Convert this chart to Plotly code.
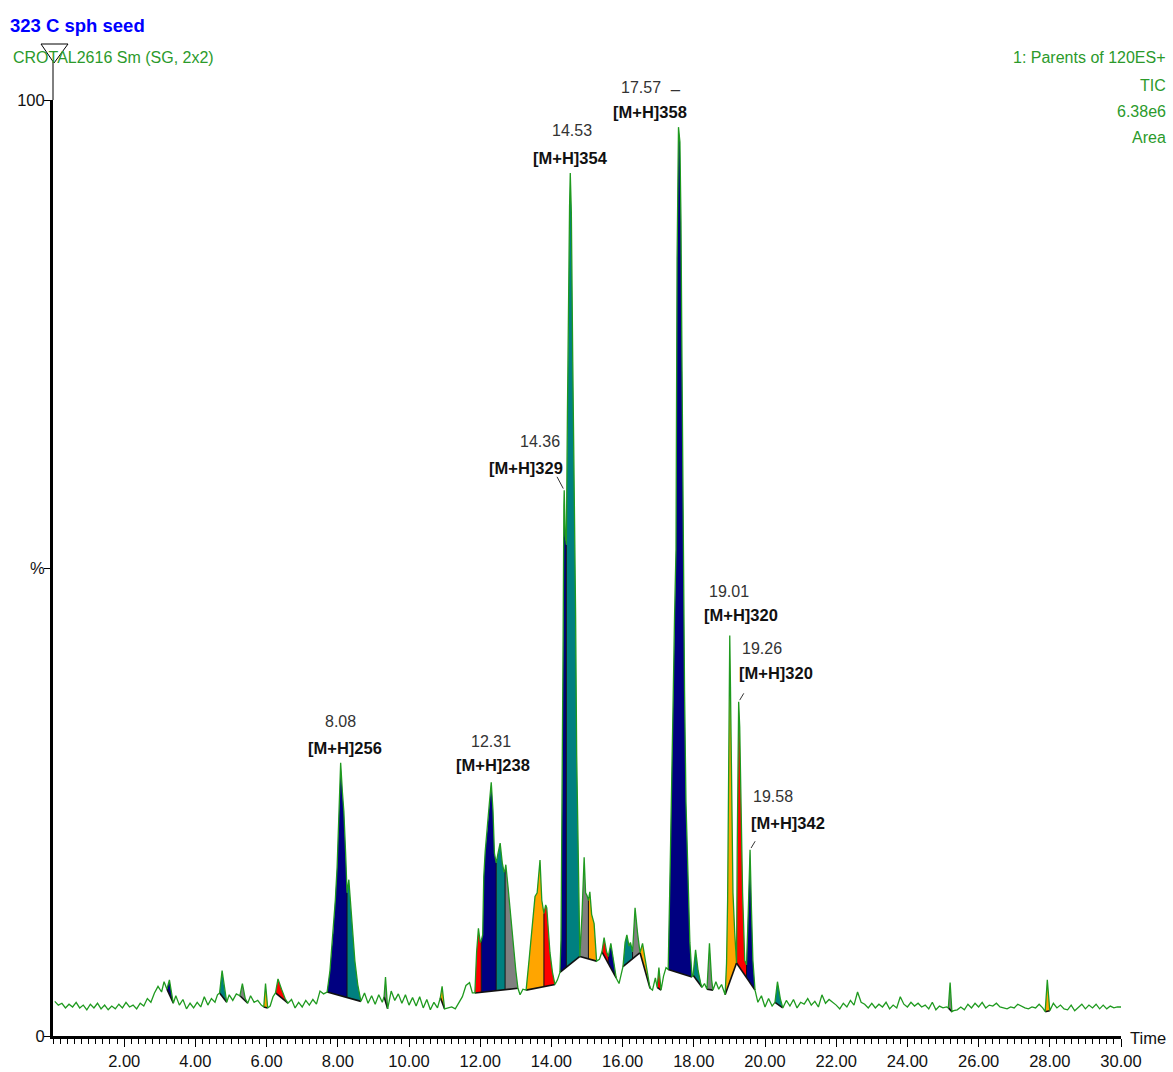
import numpy as np
import plotly.graph_objects as go

FONT = "Liberation Sans, Arial, sans-serif"

# ---------------- TIC trace: retention time (min) / intensity (% of 6.38e6) ----------------
rt_a = np.round(np.arange(0.05, 3.0, 0.1), 2)
tic_a = [3.7, 3.3, 3.5, 3.0, 3.4, 3.1, 3.6, 3.0, 3.3, 2.8, 3.4, 3.0, 3.5, 2.9, 3.3,
         2.8, 3.2, 2.9, 3.4, 3.0, 3.6, 3.1, 3.3, 2.9, 3.5, 3.2, 4.0, 3.6, 4.6, 5.3]

rt_b = [3.05, 3.12, 3.20, 3.27, 3.33, 3.38, 3.45, 3.55, 3.65, 3.75, 3.85, 3.95,
        4.05, 4.15, 4.25, 4.35, 4.45, 4.55, 4.62, 4.68, 4.75, 4.80, 4.88, 4.95,
        5.05, 5.15, 5.25, 5.32, 5.40, 5.47, 5.55, 5.65, 5.75, 5.85, 5.92, 5.97,
        6.03, 6.10, 6.18, 6.25, 6.32, 6.42, 6.52, 6.60, 6.70, 6.80, 6.90, 7.00,
        7.10, 7.20, 7.30, 7.40, 7.50, 7.60]
tic_b = [4.7, 5.8, 5.0, 6.0, 4.6, 3.5, 4.3, 3.3, 3.9, 2.9, 3.5, 3.0,
         3.6, 3.1, 4.2, 3.3, 4.0, 3.6, 4.4, 4.6, 7.0, 5.5, 3.6, 4.4,
         3.8, 4.5, 4.3, 5.6, 4.0, 3.5, 4.3, 3.6, 3.8, 3.3, 3.1, 5.6,
         3.0, 3.2, 4.2, 4.6, 6.1, 5.0, 4.0, 3.5, 3.9, 3.0, 3.6, 3.1,
         3.8, 3.3, 3.9, 3.4, 4.8, 4.5]

rt_c = [7.70, 7.78, 7.87, 7.93, 7.98, 8.03, 8.08, 8.13, 8.17, 8.22, 8.26, 8.31,
        8.36, 8.42, 8.48, 8.56, 8.65]
tic_c = [4.7, 7.0, 11.0, 14.5, 18.0, 23.5, 29.2, 26.0, 24.0, 19.5, 15.3, 16.7,
         14.0, 11.0, 8.0, 5.5, 3.7]

rt_d = [8.75, 8.85, 8.95, 9.05, 9.15, 9.25, 9.30, 9.34, 9.40, 9.50, 9.60, 9.70,
        9.80, 9.90, 10.00, 10.10, 10.20, 10.30, 10.40, 10.50, 10.60, 10.70, 10.80,
        10.88, 10.93, 11.00, 11.10, 11.20, 11.30, 11.40, 11.50, 11.60, 11.70, 11.78]
tic_d = [4.6, 3.5, 4.3, 3.4, 4.4, 3.6, 4.2, 6.3, 2.9, 4.8, 3.8, 4.5,
         3.5, 4.4, 3.3, 4.1, 3.2, 4.2, 3.0, 3.9, 2.8, 3.6, 3.0,
         4.1, 5.3, 2.9, 3.0, 3.1, 2.9, 3.6, 4.2, 5.4, 5.7, 4.6]

rt_e = [11.85, 11.90, 11.95, 12.00, 12.03, 12.07, 12.10, 12.14, 12.20, 12.26, 12.31, 12.36,
        12.40, 12.45, 12.50, 12.56, 12.62, 12.67, 12.70, 12.72, 12.78, 12.85, 12.92, 13.00,
        13.06, 13.12, 13.20, 13.29, 13.37, 13.45, 13.54, 13.60, 13.68, 13.73, 13.79, 13.84,
        13.87, 13.92, 13.96, 14.03, 14.10, 14.17, 14.24, 14.27, 14.30, 14.33, 14.35, 14.36,
        14.39, 14.42, 14.45, 14.48, 14.51, 14.53, 14.56, 14.60, 14.64, 14.68, 14.71, 14.75,
        14.78, 14.80]
tic_e = [4.6, 9.0, 11.5, 10.0, 10.2, 10.8, 17.0, 19.7, 22.0, 25.0, 27.1, 24.0,
         19.5, 18.5, 19.5, 20.6, 18.5, 17.5, 17.8, 18.3, 16.0, 13.0, 10.0, 7.0,
         5.1, 4.4, 5.0, 4.9, 8.0, 11.3, 14.9, 15.3, 18.8, 14.5, 13.1, 14.0,
         13.7, 11.0, 8.9, 6.8, 5.5, 6.0, 6.8, 10.3, 24.0, 43.0, 56.7, 58.3,
         53.5, 52.5, 66.5, 82.9, 88.6, 92.2, 88.0, 72.0, 60.0, 45.0, 30.0, 20.0,
         11.0, 8.5]

rt_f = [14.86, 14.92, 14.96, 15.00, 15.04, 15.08, 15.13, 15.20, 15.27, 15.35, 15.42, 15.48,
        15.55, 15.60, 15.67, 15.75, 15.82, 15.90, 16.01, 16.07, 16.12, 16.18, 16.22, 16.28,
        16.35, 16.42, 16.49, 16.56, 16.62, 16.70, 16.77, 16.84, 16.92, 16.97, 17.02, 17.08,
        17.15, 17.22]
tic_f = [13.0, 19.1, 15.3, 15.0, 14.5, 15.4, 13.0, 12.0, 8.0, 8.2, 9.0, 10.5,
         9.0, 8.5, 9.9, 8.0, 6.2, 5.6, 7.4, 10.0, 10.8, 9.6, 10.0, 9.0,
         13.7, 11.0, 8.9, 9.9, 8.5, 6.5, 5.1, 4.9, 6.2, 5.2, 7.3, 4.9,
         6.4, 7.3]

rt_g = [17.28, 17.33, 17.38, 17.42, 17.46, 17.50, 17.53, 17.57, 17.61, 17.64, 17.67, 17.70,
        17.74, 17.78, 17.84, 17.89, 17.95, 17.98, 18.05, 18.12, 18.20, 18.23, 18.30, 18.37,
        18.44, 18.50, 18.54, 18.62, 18.70, 18.78, 18.88, 18.92, 18.95, 18.97, 18.99, 19.01,
        19.03, 19.07, 19.10, 19.15, 19.20, 19.22, 19.24, 19.26, 19.29, 19.32, 19.37, 19.43,
        19.48, 19.52, 19.55, 19.58, 19.62, 19.66, 19.72, 19.80, 19.90, 20.00, 20.10, 20.20,
        20.28, 20.35, 20.43, 20.50]
tic_g = [7.1, 16.7, 26.0, 36.0, 45.0, 52.0, 83.0, 97.1, 95.5, 87.0, 71.0, 51.0,
         37.0, 25.0, 16.0, 10.0, 6.3, 6.5, 9.2, 7.0, 5.5, 5.2, 5.6, 5.0,
         9.9, 6.0, 4.9, 5.8, 5.0, 5.5, 4.4, 7.8, 14.5, 26.0, 37.3, 42.8,
         37.3, 24.0, 15.3, 11.0, 7.8, 20.0, 32.7, 35.7, 33.0, 25.2, 15.3, 8.1,
         7.6, 12.0, 17.0, 19.9, 13.5, 8.1, 4.9, 3.6, 4.3, 3.1, 4.0, 3.2,
         3.6, 5.8, 4.0, 3.0]

rt_h = np.round(np.arange(20.6, 25.15, 0.1), 2)
tic_h = [3.8, 3.2, 3.9, 3.0, 3.6, 3.4, 4.0, 3.3, 3.7, 3.1,
         4.4, 3.5, 3.9, 3.6, 3.3, 2.9, 3.5, 3.1, 3.8, 3.3,
         4.7, 3.6, 3.4, 3.0, 3.5, 3.0, 3.4, 3.1, 3.6, 2.9,
         3.3, 3.0, 4.2, 3.4, 3.1, 3.6, 3.2, 3.5, 3.1, 3.3,
         2.9, 3.6, 2.8, 3.2, 3.0, 3.1]

rt_i = [25.15, 25.20, 25.25]
tic_i = [3.0, 5.7, 2.6]

rt_j = np.round(np.arange(25.3, 27.85, 0.1), 2)
tic_j = [2.7, 2.8, 3.1, 2.8, 3.4, 3.0, 3.5, 3.1, 3.6, 3.0,
         3.3, 3.2, 3.5, 3.1, 3.0, 2.9, 3.1, 3.0, 3.4, 3.2,
         3.0, 2.9, 3.1, 3.0, 3.4, 3.0]

rt_k = [27.87, 27.93, 28.00]
tic_k = [2.6, 6.0, 2.7]

rt_l = np.round(np.arange(28.1, 30.05, 0.1), 2)
tic_l = [3.5, 3.0, 3.3, 2.9, 2.8, 3.3, 2.7, 3.1, 3.4, 2.9,
         3.3, 3.0, 3.4, 2.9, 3.3, 2.9, 3.2, 3.0, 3.1, 3.1]

rt = np.concatenate([rt_a, rt_b, rt_c, rt_d, rt_e, rt_f, rt_g, rt_h, rt_i, rt_j, rt_k, rt_l]).astype(float)
tic = np.concatenate([tic_a, tic_b, tic_c, tic_d, tic_e, tic_f, tic_g, tic_h, tic_i, tic_j, tic_k, tic_l]).astype(float)

# ---------------- integrated peaks: window start/end and drop-line times (min) ----------------
win_start = [3.20, 4.68, 5.25, 5.92, 6.25, 7.70, 9.30, 10.88, 11.85, 13.29, 14.24, 14.80,
             15.42, 16.01, 16.49, 16.97, 17.28, 17.98, 18.37, 18.88, 19.20, 20.28, 25.15, 27.87]
win_end = [3.38, 4.88, 5.47, 6.03, 6.60, 8.65, 9.40, 11.00, 13.06, 14.10, 14.80, 15.27,
           15.82, 16.49, 16.77, 17.08, 17.95, 18.23, 18.54, 19.20, 19.72, 20.50, 25.25, 28.00]
win_drops = [[], [], [], [], [], [8.26], [], [], [12.03, 12.45, 12.70], [13.79], [14.42], [15.04],
             [15.60], [16.28], [], [], [], [], [], [], [19.48], [], [], []]

# fill colour of each integrated peak, left to right inside its window
NAVY, TEAL, GREY, ORANGE, RED = "#000080", "#008080", "#808080", "#FFA500", "#FF0000"
win_fills = [[NAVY], [TEAL], [GREY], [ORANGE], [RED], [NAVY, TEAL], [GREY], [ORANGE],
             [RED, NAVY, TEAL, GREY], [ORANGE, RED], [NAVY, TEAL], [GREY, ORANGE],
             [RED, NAVY], [TEAL, GREY], [ORANGE], [RED], [NAVY], [TEAL], [GREY], [ORANGE],
             [RED, NAVY], [TEAL], [GREY], [ORANGE]]

# ---------------- labelled peaks ----------------
lab_rt = [8.08, 12.31, 14.36, 14.53, 17.57, 19.01, 19.26, 19.58]
lab_ion = ["[M+H]256", "[M+H]238", "[M+H]329", "[M+H]354", "[M+H]358",
           "[M+H]320", "[M+H]320", "[M+H]342"]
# label offsets from the apex, in pixels: (rt dx, rt dy, ion dx, ion dy, leader dx, leader dy)
lab_off = [(0, 41, 4, 15, None, None),
           (0, 41, 2, 17, None, None),
           (-24, 49, -38, 22, -8, -15),
           (2, 43, 0, 15, None, None),
           (-37, 40, -28, 15, None, None),
           (-1, 44, 11, 20, None, None),
           (23, 53, 37, 29, 6, -10),
           (23, 53, 38, 27, 6, -10)]

TRACE_GREEN = "#1f9a1f"
TEXT_GREEN = "#2b9a2b"

fig = go.Figure()


def tic_at(t):
    return float(np.interp(t, rt, tic))


# coloured peak areas between the TIC and each window's baseline
base_x, base_y, drop_x, drop_y = [], [], [], []
for s, e, drops, fills in zip(win_start, win_end, win_drops, win_fills):
    ys, ye = tic_at(s), tic_at(e)

    def base(t, s=s, e=e, ys=ys, ye=ye):
        return ys + (ye - ys) * (t - s) / (e - s)

    edges = [s] + list(drops) + [e]
    for a, b, col in zip(edges[:-1], edges[1:], fills):
        inside = (rt > a + 1e-9) & (rt < b - 1e-9)
        px = [a] + list(rt[inside]) + [b, b, a]
        py = [tic_at(a)] + list(tic[inside]) + [tic_at(b), base(b), base(a)]
        fig.add_trace(go.Scatter(x=px, y=py, mode="lines", fill="toself", fillcolor=col,
                                 line=dict(width=0), hoverinfo="skip"))
    base_x += [s, e, None]
    base_y += [ys, ye, None]
    for d in drops:
        drop_x += [d, d, None]
        drop_y += [base(d), tic_at(d), None]

fig.add_trace(go.Scatter(x=base_x, y=base_y, mode="lines",
                         line=dict(color="#111111", width=1.6), hoverinfo="skip"))
fig.add_trace(go.Scatter(x=drop_x, y=drop_y, mode="lines",
                         line=dict(color="#111111", width=1), hoverinfo="skip"))

# the chromatogram itself
fig.add_trace(go.Scatter(x=rt, y=tic, mode="lines",
                         line=dict(color=TRACE_GREEN, width=1.3), hoverinfo="skip"))

# peak labels
for t, ion, off in zip(lab_rt, lab_ion, lab_off):
    h = tic_at(t)
    rdx, rdy, idx, idy, ldx, ldy = off
    fig.add_annotation(x=t, y=h, text=f"{t:.2f}", showarrow=False, xshift=rdx, yshift=rdy,
                       font=dict(family=FONT, size=16, color="#333333"))
    fig.add_annotation(x=t, y=h, text=f"<b>{ion}</b>", showarrow=False, xshift=idx, yshift=idy,
                       font=dict(family=FONT, size=16.5, color="#111111"))
    if ldx is not None:
        fig.add_annotation(x=t, y=h, text="", showarrow=True, arrowhead=0, arrowwidth=1,
                           arrowcolor="#333333", ax=ldx, ay=ldy, standoff=2)
# small dash printed next to the 17.57 label
fig.add_annotation(x=17.57, y=tic_at(17.57), text="_", showarrow=False, xshift=-3, yshift=44,
                   font=dict(family=FONT, size=16, color="#333333"))

# ---------------- page furniture ----------------
L, R, T, B = 53, 52, 100, 36
W, H = 1173, 1072
PW, PH = W - L - R, H - T - B


def fx(px):
    return (px - L) / PW


def fy(py):
    return (H - B - py) / PH


fig.add_annotation(xref="paper", yref="paper", x=fx(8), y=fy(25), xanchor="left", yanchor="middle",
                   text="<b>323 C sph seed</b>", showarrow=False,
                   font=dict(family=FONT, size=18.5, color="#0000FF"))
fig.add_annotation(xref="paper", yref="paper", x=fx(11), y=fy(58), xanchor="left", yanchor="middle",
                   text="CROTAL2616 Sm (SG, 2x2)", showarrow=False,
                   font=dict(family=FONT, size=16, color=TEXT_GREEN))
for txt, py in [("1: Parents of 120ES+", 58), ("TIC", 85), ("6.38e6", 112), ("Area", 138)]:
    fig.add_annotation(xref="paper", yref="paper", x=fx(1168), y=fy(py), xanchor="right",
                       yanchor="middle", text=txt, showarrow=False,
                       font=dict(family=FONT, size=16, color=TEXT_GREEN))
fig.add_annotation(xref="paper", yref="paper", x=fx(1128), y=fy(1038), xanchor="left",
                   yanchor="middle", text="Time", showarrow=False,
                   font=dict(family=FONT, size=16.5, color="#111111"))

# thin axis extension above 100 and the inverted marker triangle
fig.add_shape(type="line", xref="paper", yref="paper", x0=0, x1=0, y0=1, y1=fy(62),
              line=dict(color="black", width=1))
fig.add_shape(type="path", xref="paper", yref="paper",
              path=f"M {fx(41)} {fy(44)} L {fx(68)} {fy(44)} L {fx(54)} {fy(63)} Z",
              line=dict(color="black", width=1), fillcolor="rgba(0,0,0,0)")

major = np.arange(2, 31, 2)
minor = np.round(np.arange(0, 30.01, 0.2), 2)

fig.update_layout(
    width=W, height=H,
    margin=dict(l=L, r=R, t=T, b=B, autoexpand=False),
    paper_bgcolor="white", plot_bgcolor="white",
    showlegend=False,
    xaxis=dict(range=[0, 30], showgrid=False, zeroline=False, automargin=False,
               showline=True, linecolor="black", linewidth=3,
               tickmode="array", tickvals=major, ticktext=[f"{v:.2f}" for v in major],
               ticks="outside", ticklen=8, tickwidth=1, tickcolor="black",
               minor=dict(tickmode="array", tickvals=minor, ticks="outside", ticklen=5,
                          tickwidth=1, tickcolor="black", showgrid=False),
               tickfont=dict(family=FONT, size=16.5, color="#111111")),
    yaxis=dict(range=[0, 100], showgrid=False, zeroline=False, automargin=False,
               showline=True, linecolor="black", linewidth=3,
               tickmode="array", tickvals=[0, 50, 100], ticktext=["0", "%", "100"],
               ticks="outside", ticklen=6, tickwidth=1, tickcolor="black",
               ticklabelstandoff=-4,
               tickfont=dict(family=FONT, size=16.5, color="#111111")),
)

fig.write_html("out.html")
